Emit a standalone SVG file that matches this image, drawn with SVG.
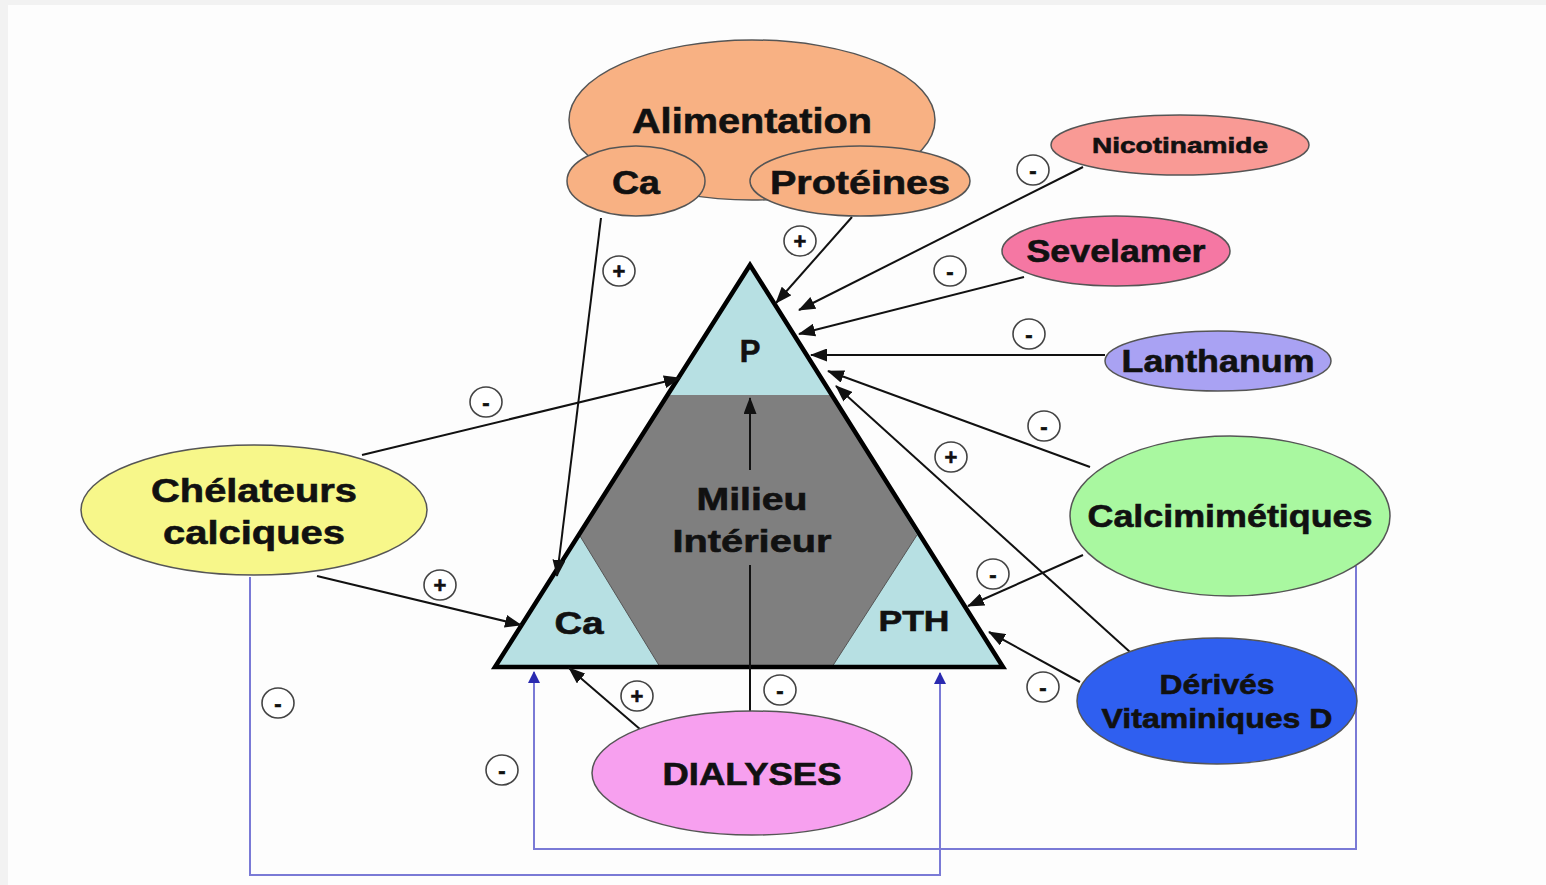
<svg xmlns="http://www.w3.org/2000/svg" width="1546" height="885" viewBox="0 0 1546 885">
<defs>
<style>
text{font-family:"Liberation Sans",Arial,sans-serif;font-weight:bold;fill:#111;stroke:#111;stroke-width:0.6;text-anchor:middle}
.node{stroke:#555;stroke-width:1.5}
.c{stroke:#111;stroke-width:2;fill:none;marker-end:url(#ah)}
.b{stroke:#7a7ad6;stroke-width:2;fill:none;marker-end:url(#bh)}
.sg ellipse{fill:#fff;stroke:#444;stroke-width:1.6}
.sg text{font-size:22px}
</style>
<marker id="ah" viewBox="0 0 17 13" refX="16" refY="6.5" markerWidth="17" markerHeight="13" markerUnits="userSpaceOnUse" orient="auto"><path d="M0,0L17,6.5L0,13z" fill="#111"/></marker>
<marker id="bh" viewBox="0 0 12 12" refX="11" refY="6" markerWidth="12" markerHeight="12" markerUnits="userSpaceOnUse" orient="auto"><path d="M0,0L12,6L0,12z" fill="#2a2ab0"/></marker>
</defs>
<rect width="1546" height="885" fill="#fdfdfd"/>
<rect width="1546" height="5" fill="#f2f2f2"/>
<rect width="8" height="885" fill="#f2f2f2"/>

<g id="triangle">
<polygon points="750,265 495,667 1003,667" fill="#b7e0e3"/>
<polygon points="668,395 832,395 917,535 832,667 660,667 580,536" fill="#7f7f7f"/>
<line x1="660" y1="667" x2="580" y2="536" stroke="#555" stroke-width="1"/>
<line x1="832" y1="667" x2="917" y2="535" stroke="#555" stroke-width="1"/>
<polygon points="750,265 495,667 1003,667" fill="none" stroke="#000" stroke-width="4.5" stroke-linejoin="miter"/>
<text x="750" y="362" font-size="31">P</text>
<text x="752" y="510" font-size="31" textLength="111" lengthAdjust="spacingAndGlyphs">Milieu</text>
<text x="752" y="552" font-size="31" textLength="159" lengthAdjust="spacingAndGlyphs">Intérieur</text>
<text x="579" y="634" font-size="31" textLength="49" lengthAdjust="spacingAndGlyphs">Ca</text>
<text x="914" y="631" font-size="29" textLength="71" lengthAdjust="spacingAndGlyphs">PTH</text>
</g>

<g id="connectors">
<line class="c" x1="601" y1="218" x2="557" y2="576"/>
<line class="c" x1="852" y1="217" x2="776" y2="303"/>
<line class="c" x1="1083" y1="167" x2="799" y2="310"/>
<line class="c" x1="1024" y1="277" x2="799" y2="334"/>
<line class="c" x1="1105" y1="355" x2="811" y2="355"/>
<line class="c" x1="1090" y1="467" x2="828" y2="371"/>
<line class="c" x1="1130" y1="652" x2="836" y2="386"/>
<line class="c" x1="1083" y1="555" x2="968" y2="606"/>
<line class="c" x1="1080" y1="682" x2="989" y2="632"/>
<line class="c" x1="362" y1="455" x2="680" y2="378"/>
<line class="c" x1="317" y1="576" x2="521" y2="625"/>
<line class="c" x1="641" y1="730" x2="569" y2="668"/>
<line stroke="#111" stroke-width="2" x1="750" y1="712" x2="750" y2="565"/>
<line class="c" x1="750" y1="470" x2="750" y2="398"/>
<polyline class="b" points="250,577 250,875 940,875 940,673"/>
<polyline class="b" points="1356,566 1356,849 534,849 534,672"/>
</g>

<g id="signs" class="sg">
<ellipse cx="619" cy="271" rx="16" ry="15"/><text x="619" y="279">+</text>
<ellipse cx="800" cy="241" rx="16" ry="15"/><text x="800" y="249">+</text>
<ellipse cx="1033" cy="170" rx="16" ry="15"/><text x="1033" y="178">-</text>
<ellipse cx="950" cy="271" rx="16" ry="15"/><text x="950" y="279">-</text>
<ellipse cx="1029" cy="334" rx="16" ry="15"/><text x="1029" y="342">-</text>
<ellipse cx="1044" cy="426" rx="16" ry="15"/><text x="1044" y="434">-</text>
<ellipse cx="951" cy="457" rx="16" ry="15"/><text x="951" y="465">+</text>
<ellipse cx="993" cy="574" rx="16" ry="15"/><text x="993" y="582">-</text>
<ellipse cx="1043" cy="687" rx="16" ry="15"/><text x="1043" y="695">-</text>
<ellipse cx="486" cy="402" rx="16" ry="15"/><text x="486" y="410">-</text>
<ellipse cx="440" cy="585" rx="16" ry="15"/><text x="440" y="593">+</text>
<ellipse cx="637" cy="696" rx="16" ry="15"/><text x="637" y="704">+</text>
<ellipse cx="780" cy="690" rx="16" ry="15"/><text x="780" y="698">-</text>
<ellipse cx="278" cy="703" rx="16" ry="15"/><text x="278" y="711">-</text>
<ellipse cx="502" cy="770" rx="16" ry="15"/><text x="502" y="778">-</text>
</g>

<g id="alimentation">
<ellipse class="node" cx="752" cy="120" rx="183" ry="80" fill="#f8b183"/>
<text x="752" y="133" font-size="35" textLength="240" lengthAdjust="spacingAndGlyphs">Alimentation</text>
</g>
<g id="alim-ca">
<ellipse class="node" cx="636" cy="181" rx="69" ry="35" fill="#f8b183"/>
<text x="636" y="194" font-size="33" textLength="48" lengthAdjust="spacingAndGlyphs">Ca</text>
</g>
<g id="proteines">
<ellipse class="node" cx="860" cy="181" rx="110" ry="35" fill="#f8b183"/>
<text x="860" y="194" font-size="33" textLength="180" lengthAdjust="spacingAndGlyphs">Protéines</text>
</g>
<g id="nicotinamide">
<ellipse class="node" cx="1180" cy="145" rx="129" ry="30" fill="#f99a95"/>
<text x="1180" y="153" font-size="22" textLength="176" lengthAdjust="spacingAndGlyphs">Nicotinamide</text>
</g>
<g id="sevelamer">
<ellipse class="node" cx="1116" cy="251" rx="114" ry="35" fill="#f577a3"/>
<text x="1116" y="262" font-size="31" textLength="179" lengthAdjust="spacingAndGlyphs">Sevelamer</text>
</g>
<g id="lanthanum">
<ellipse class="node" cx="1218" cy="361" rx="113" ry="30" fill="#a9a2f3"/>
<text x="1218" y="372" font-size="31" textLength="193" lengthAdjust="spacingAndGlyphs">Lanthanum</text>
</g>
<g id="calcimimetiques">
<ellipse class="node" cx="1230" cy="516" rx="160" ry="80" fill="#a9f8a0"/>
<text x="1230" y="527" font-size="31" textLength="285" lengthAdjust="spacingAndGlyphs">Calcimimétiques</text>
</g>
<g id="vitamine-d">
<ellipse class="node" cx="1217" cy="701" rx="140" ry="63" fill="#2f5ff0"/>
<text x="1217" y="694" font-size="27" textLength="115" lengthAdjust="spacingAndGlyphs">Dérivés</text>
<text x="1217" y="728" font-size="27" textLength="231" lengthAdjust="spacingAndGlyphs">Vitaminiques D</text>
</g>
<g id="chelateurs">
<ellipse class="node" cx="254" cy="510" rx="173" ry="65" fill="#f7f78a"/>
<text x="254" y="502" font-size="33" textLength="206" lengthAdjust="spacingAndGlyphs">Chélateurs</text>
<text x="254" y="544" font-size="33" textLength="182" lengthAdjust="spacingAndGlyphs">calciques</text>
</g>
<g id="dialyses">
<ellipse class="node" cx="752" cy="773" rx="160" ry="62" fill="#f7a0ef"/>
<text x="752" y="785" font-size="32" textLength="179" lengthAdjust="spacingAndGlyphs">DIALYSES</text>
</g>
</svg>
